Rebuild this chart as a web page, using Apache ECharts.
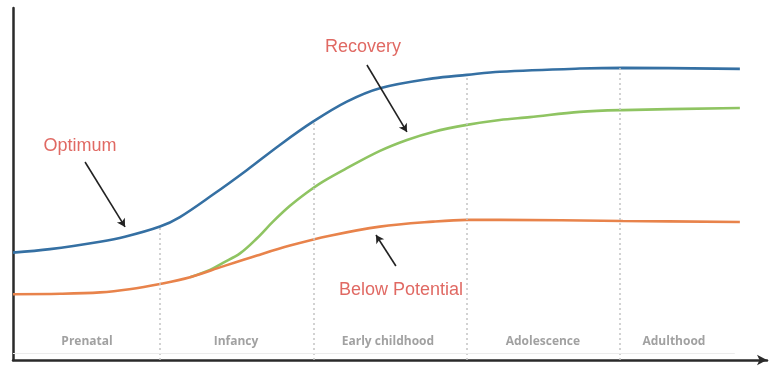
<!DOCTYPE html>
<html><head><meta charset="utf-8">
<script src="https://cdn.jsdelivr.net/npm/echarts@6/dist/echarts.min.js"></script>
<style>html,body{margin:0;padding:0;background:#fff}#c{width:778px;height:373px}</style>
</head><body><div id="c"></div>
<script>
// x: life-stage units (stage boundaries at 1,2,3,4); y: growth/development (0-100)
const stageNames = ['Prenatal', 'Infancy', 'Early childhood', 'Adolescence', 'Adulthood'];
const stageLabelX = [0.524, 1.496, 2.487, 3.498, 4.353];
const stageBoundaries = [1, 2, 3, 4];
const boundaryTop = [37.9, 67.7, 81.0, 83.0];

const optimumX = [0.041, 0.282, 0.609, 0.771, 1.0, 1.13, 1.346, 1.568, 1.782, 1.998, 2.219, 2.435, 2.781, 3.002, 3.217, 3.739, 4.02, 4.783];
const optimumY = [30.5, 31.5, 33.6, 35.0, 37.9, 40.6, 47.0, 54.0, 61.1, 67.7, 73.4, 77.2, 80.0, 81.0, 81.9, 82.8, 83.0, 82.7];

const recoveryX = [1.196, 1.326, 1.411, 1.522, 1.633, 1.737, 1.848, 1.959, 2.063, 2.219, 2.435, 2.611, 2.781, 3.002, 3.217, 3.413, 3.739, 4.02, 4.783];
const recoveryY = [23.5, 25.6, 27.6, 30.3, 34.6, 39.3, 43.8, 47.6, 50.7, 54.5, 59.4, 62.5, 64.8, 66.8, 68.2, 69.0, 70.5, 71.0, 71.6];

const belowX = [0.041, 0.35, 0.609, 0.8, 1.0, 1.196, 1.411, 1.633, 1.848, 2.108, 2.435, 2.781, 3.002, 3.217, 4.02, 4.783];
const belowY = [18.7, 18.8, 19.2, 20.1, 21.6, 23.5, 26.6, 29.7, 32.5, 35.3, 37.9, 39.3, 39.8, 39.8, 39.5, 39.2];

const annotations = [
  { text: 'Optimum', at: [0.478, 60.8], from: [0.511, 56.25], to: [0.772, 37.8] },
  { text: 'Recovery', at: [2.324, 88.9], from: [2.35, 83.8], to: [2.611, 64.8] },
  { text: 'Below Potential', at: [2.572, 19.9], from: [2.539, 26.7], to: [2.409, 35.5] }
];

const zip = (xs, ys) => xs.map((x, i) => [x, ys[i]]);
const chart = echarts.init(document.getElementById('c'));
const lineStyleBase = { width: 2.6 };

chart.setOption({
  animation: false,
  grid: { left: 13, right: 11, top: 8, bottom: 13 },
  xAxis: {
    type: 'value', min: 0.041, max: 4.96,
    axisLine: { show: true, symbol: ['none', 'arrow'], symbolSize: [8, 10], lineStyle: { color: '#2a2a2a', width: 2.5 } },
    axisTick: { show: false }, axisLabel: { show: false }, splitLine: { show: false }
  },
  yAxis: {
    type: 'value', min: 0, max: 100,
    axisLine: { show: true, lineStyle: { color: '#2a2a2a', width: 2.5 } },
    axisTick: { show: false }, axisLabel: { show: false }, splitLine: { show: false }
  },
  series: [
    {
      type: 'line', name: 'Below Potential', data: zip(belowX, belowY), smooth: 0.35, showSymbol: false,
      lineStyle: Object.assign({ color: '#e8834b' }, lineStyleBase), z: 3,
      markLine: {
        silent: true, symbol: ['none', 'none'], label: { show: false },
        lineStyle: { color: '#c4c4c4', type: [2, 3], width: 1.5 },
        data: stageBoundaries.map((b, i) => [{ coord: [b, 0] }, { coord: [b, boundaryTop[i]] }])
          .concat([[{ coord: [0.041, 2.0], lineStyle: { color: '#ececec', type: 'solid', width: 1 } }, { coord: [4.75, 2.0] }]])
      }
    },
    {
      type: 'line', name: 'Recovery', data: zip(recoveryX, recoveryY), smooth: 0.35, showSymbol: false,
      lineStyle: Object.assign({ color: '#8fc462' }, lineStyleBase), z: 2
    },
    {
      type: 'line', name: 'Optimum', data: zip(optimumX, optimumY), smooth: 0.35, showSymbol: false,
      lineStyle: Object.assign({ color: '#3570a3' }, lineStyleBase), z: 4,
      markLine: {
        silent: true, symbol: ['none', 'arrow'], symbolSize: [7, 8], label: { show: false },
        lineStyle: { color: '#222', type: 'solid', width: 1.6 },
        data: annotations.map(a => [{ coord: a.from }, { coord: a.to }])
      }
    },
    {
      type: 'scatter', symbolSize: 0, silent: true, z: 5,
      data: annotations.map(a => ({ value: a.at, name: a.text })),
      label: { show: true, position: 'inside', formatter: p => p.name, color: '#d8433c', fontSize: 18, fontFamily: 'Liberation Sans, Arial, sans-serif' }
    },
    {
      type: 'scatter', symbolSize: 0, silent: true, z: 5,
      data: stageNames.map((n, i) => ({ value: [stageLabelX[i], 5.1], name: n })),
      label: { show: true, position: 'inside', formatter: p => p.name, color: '#8a8a8a', fontSize: 12, fontWeight: 'bold', fontFamily: 'Open Sans, sans-serif' }
    }
  ]
});
</script></body></html>
